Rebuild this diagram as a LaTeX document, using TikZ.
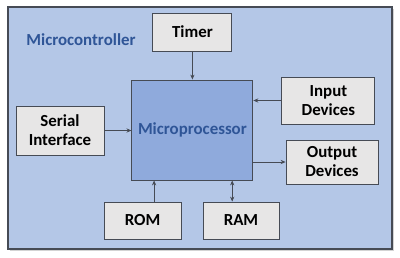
\documentclass[tikz,border=0pt]{standalone}
\usepackage{fontspec}
\setmainfont{Carlito}
\usetikzlibrary{positioning,arrows.meta,shadows}
\definecolor{mcfill}{RGB}{180,199,231}
\definecolor{mpfill}{RGB}{143,170,220}
\definecolor{partfill}{RGB}{231,230,230}
\definecolor{edgegray}{RGB}{70,75,85}
\definecolor{titleblue}{RGB}{47,85,151}

\begin{document}
\begin{tikzpicture}[
  part/.style={rectangle,draw=edgegray,line width=0.6pt,fill=partfill,text=black,font=\fontsize{12}{13.5}\selectfont\bfseries,align=center,inner sep=0pt},
  arrow/.style={-{Stealth[length=3.5pt,width=3pt]},edgegray,line width=0.5pt},
  darrow/.style={{Stealth[length=3.5pt,width=3pt]}-{Stealth[length=3.5pt,width=3pt]},edgegray,line width=0.5pt}
]
\useasboundingbox (0,0) rectangle (10,6.425);

% outer chip
\node[rectangle,draw=edgegray,line width=0.9pt,fill=mcfill,minimum width=9.6cm,minimum height=6.05cm,
  drop shadow={shadow xshift=1.2pt,shadow yshift=-1.2pt,opacity=0.35,fill=gray}] (MC) at (5,3.225) {};
\node[font=\fontsize{12}{13.5}\selectfont\bfseries,text=titleblue] (MClabel) at (2.025,5.425) {Microcontroller};

\node[rectangle,draw=edgegray,line width=0.7pt,fill=mpfill,minimum width=3.025cm,minimum height=2.5cm,
  font=\fontsize{12}{13.5}\selectfont\bfseries,text=titleblue] (MP) at (4.81,3.175) {Microprocessor};

\node[part,minimum width=1.975cm,minimum height=0.95cm] (TMR) at (4.81,5.625) {Timer};
\node[part,minimum width=2.325cm,minimum height=1.175cm] (IN) at (8.21,3.9125) {Input\\Devices};
\node[part,minimum width=2.3cm,minimum height=1.1cm] (OUT) at (8.3,2.375) {Output\\Devices};
\node[part,minimum width=2.2cm,minimum height=1.225cm] (SER) at (1.5,3.1625) {Serial\\Interface};
\node[part,minimum width=1.925cm,minimum height=0.925cm] (ROM) at (3.5625,0.9125) {ROM};
\node[part,minimum width=1.9cm,minimum height=0.925cm] (RAM) at (6.025,0.9125) {RAM};

\draw[arrow] (TMR) -- (MP);
\draw[arrow] (IN.west) -- (IN.west -| MP.east);
\draw[arrow] (SER.east) -- (SER.east -| MP.west);
\draw[arrow] (MP.east |- OUT.west) -- (OUT.west);
\draw[arrow] ([xshift=0.29cm]ROM.north) -- ([xshift=0.29cm]ROM.north |- MP.south);
\draw[darrow] ([xshift=-0.22cm]RAM.north) -- ([xshift=-0.22cm]RAM.north |- MP.south);

\end{tikzpicture}
\end{document}
